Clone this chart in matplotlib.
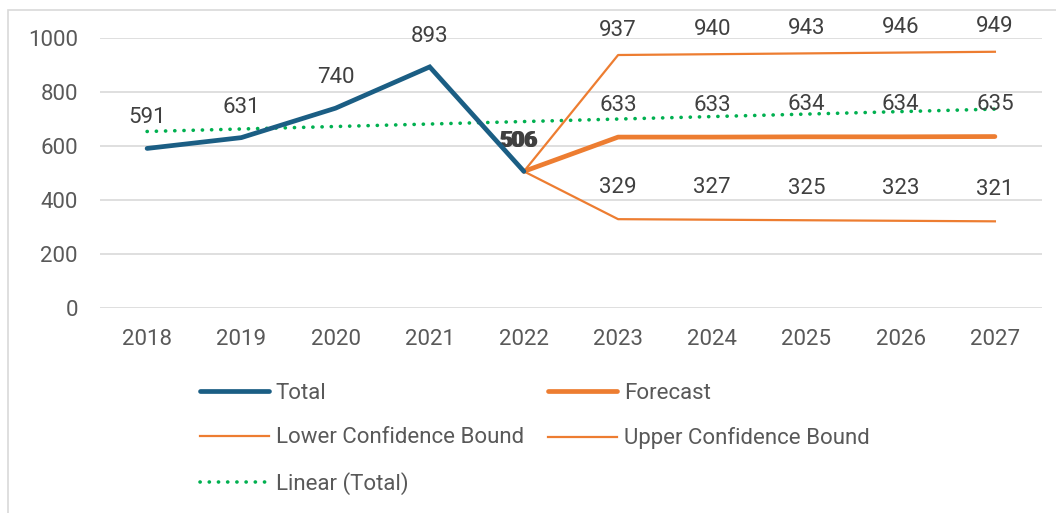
import numpy as np
import matplotlib.pyplot as plt
from matplotlib.patches import Rectangle

# --- DATA ---
years = ['2018', '2019', '2020', '2021', '2022', '2023', '2024', '2025', '2026', '2027']
total = [591, 631, 740, 893, 506]
forecast = [506, 633, 633, 634, 634, 635]
lower = [506, 329, 327, 325, 323, 321]
upper = [506, 937, 940, 943, 946, 949]
yticks = [0, 200, 400, 600, 800, 1000]

BLUE = '#1B5E84'
ORANGE = '#ED7D31'
GREEN = '#00B050'
GRID = '#D9D9D9'
TICK = '#595959'
LABEL = '#404040'
FS = 16

plt.rcParams['font.family'] = ['Roboto', 'DejaVu Sans']

fig = plt.figure(figsize=(10.56, 5.13), dpi=100)
ax = fig.add_axes([100 / 1056, 205 / 513, 942 / 1056, 270 / 513])

# chart frame
fig.patches.append(Rectangle((8 / 1056, -0.1), 1.2, (503 / 513) + 0.1, transform=fig.transFigure,
                             fill=False, edgecolor=GRID, linewidth=1.2))

x_total = np.arange(len(total))
x_fc = np.arange(len(total) - 1, len(years))

# --- trend line over Total, extended over the forecast period ---
coef = np.polyfit(x_total, total, 1)
x_all = np.arange(len(years))
ax.plot(x_all, np.polyval(coef, x_all), color=GREEN, linewidth=2.6,
        linestyle=(0, (0.05, 2.5)), dash_capstyle='round', label='Linear (Total)', zorder=2)

ax.plot(x_fc, lower, color=ORANGE, linewidth=1.6, label='Lower Confidence Bound', zorder=3)
ax.plot(x_fc, upper, color=ORANGE, linewidth=1.6, label='Upper Confidence Bound', zorder=3)
ax.plot(x_fc, forecast, color=ORANGE, linewidth=3.4, solid_capstyle='round',
        label='Forecast', zorder=4)
ax.plot(x_total, total, color=BLUE, linewidth=3.4, solid_capstyle='round',
        solid_joinstyle='miter', label='Total', zorder=5)

# --- data labels ---
def label(xs, ys, dx=0, dy=22, weight='normal'):
    for xv, yv in zip(xs, ys):
        ax.annotate(str(yv), (xv, yv), xytext=(dx, dy), textcoords='offset points',
                    ha='center', va='center', fontsize=FS, color=LABEL, fontweight=weight)

label(x_total[:-1], total[:-1])
label(x_fc[1:], forecast[1:], dy=23)
label(x_fc[1:], lower[1:], dy=23)
label(x_fc[1:], upper[1:], dy=18)
label(x_total[-1:], total[-1:], dx=-4, weight='bold')
label(x_fc[:1], forecast[:1], dx=-3, weight='bold')

# --- axes ---
ax.set_xlim(-0.5, len(years) - 0.5)
ax.set_ylim(0, 1000)
ax.set_xticks(x_all)
ax.set_xticklabels(years)
ax.set_yticks(yticks)
ax.tick_params(axis='both', length=0, labelsize=FS, labelcolor=TICK)
ax.tick_params(axis='x', pad=15)
ax.tick_params(axis='y', pad=16)
ax.grid(axis='y', color=GRID, linewidth=1.2)
ax.set_axisbelow(True)
for s in ax.spines.values():
    s.set_visible(False)

handles, labels = ax.get_legend_handles_labels()
hmap = dict(zip(labels, handles))
# column-major order so rows read: Total | Forecast, Lower | Upper, Linear
order = ['Total', 'Lower Confidence Bound', 'Linear (Total)', 'Forecast', 'Upper Confidence Bound']
fig.legend([hmap[k] for k in order], order, loc='upper left', ncol=2,
           bbox_to_anchor=(189 / 1056, 1 - 372 / 513), frameon=False, fontsize=FS,
           handlelength=3.1, handletextpad=0.3, columnspacing=1.1, labelspacing=1.05,
           borderpad=0, labelcolor=TICK)

fig.savefig('out.png', dpi=100)
